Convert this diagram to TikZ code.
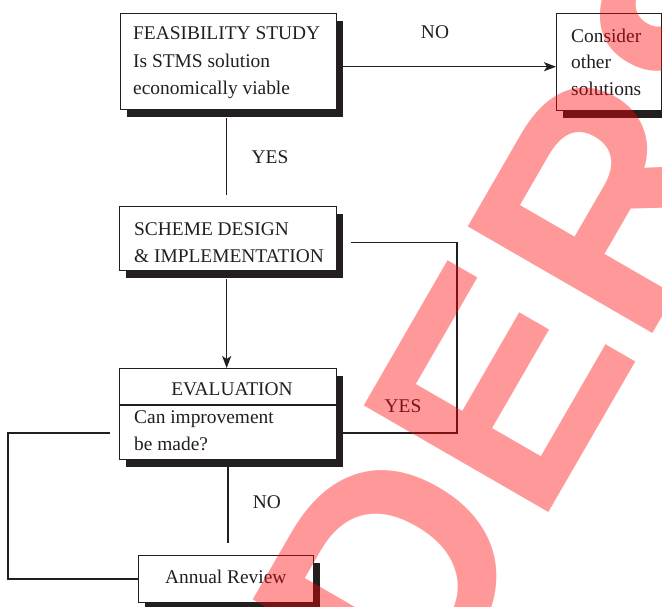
\documentclass[tikz,border=0pt]{standalone}
\usepackage{fontspec}
\setmainfont{Liberation Serif}
\newfontfamily\wmfont{Liberation Sans}
\usetikzlibrary{arrows.meta,shadows}
\definecolor{ink}{HTML}{231F20}
\begin{document}
\begin{tikzpicture}[x=1pt,y=-1pt,
  box/.style={draw=ink, line width=1.4pt, fill=white, inner sep=0pt, anchor=north west},
  shadowed/.style={drop shadow={shadow xshift=6pt, shadow yshift=-7pt, fill=ink, opacity=1}},
  txt/.style={font=\fontsize{19.4}{23}\selectfont, text=ink, inner sep=0pt, anchor=base west},
  lbl/.style={font=\fontsize{19.4}{23}\selectfont, text=ink, inner sep=0pt, anchor=center},
  conn/.style={draw=ink, line width=1.5pt},
  arr/.style={conn, -{Stealth[length=12pt,width=9pt,inset=3pt]}},
  watermark/.style={rotate=60, anchor=base west, inner sep=0pt, outer sep=0pt, text=red,
    text opacity=0.4, font=\wmfont\bfseries\fontsize{310}{310}\selectfont}]
\useasboundingbox (0,0) rectangle (662,606);
\fill[white] (0,0) rectangle (662,606);
% boxes
\node[box, shadowed, minimum width=216pt, minimum height=96pt] (F) at (120,13) {};
\node[box, shadowed, minimum width=105pt, minimum height=97pt] (C) at (556,13) {};
\node[box, shadowed, minimum width=217pt, minimum height=64pt] (S) at (119,206) {};
\node[box, shadowed, minimum width=217pt, minimum height=91pt] (E) at (119,368) {};
\node[box, shadowed, minimum width=175pt, minimum height=47pt] (A) at (138,555) {};
\coordinate (dv) at (0,405);
\draw[ink, line width=1.4pt] (E.west |- dv) -- (E.east |- dv);
% texts
\node[txt] (f1) at (133,39) {FEASIBILITY STUDY};
\node[txt] (f2) at (133,67) {Is STMS solution};
\node[txt] (f3) at (133,94) {economically viable};
\node[txt] (c1) at (571,42) {Consider};
\node[txt] (c2) at (571,68) {other};
\node[txt] (c3) at (571,95) {solutions};
\node[txt] (s1) at (134,235) {SCHEME DESIGN};
\node[txt] (s2) at (134,262) {\&\ IMPLEMENTATION};
\node[txt, anchor=base] (e1) at (232,395) {EVALUATION};
\node[txt] (e2) at (134,423) {Can improvement};
\node[txt] (e3) at (134,450) {be made?};
\node[txt] (a1) at (165,583) {Annual Review};
% labels
\node[lbl] (no1) at (435,32) {NO};
\node[lbl] (yes1) at (270,157) {YES};
\node[lbl] (yes2) at (403,406) {YES};
\node[lbl] (no2) at (267,502) {NO};
% connectors
\draw[arr] ([xshift=6pt,yshift=-5pt]F.east) coordinate (fa) -- (fa -| C.west);
\draw[conn] ([xshift=-2pt,yshift=-8pt]F.south) coordinate (fb) -- ([yshift=11pt]fb |- S.north);
\draw[arr] ([xshift=-1.5pt,yshift=-8pt]S.south) coordinate (sb) -- (sb |- E.north);
\coordinate (rc) at (457,433);
\draw[conn] ([xshift=14pt,yshift=-4pt]S.east) -| (rc) -- (rc -| E.east);
\draw[conn] ([yshift=-7pt]E.south) coordinate (eb) -- ([yshift=12pt]eb |- A.north);
\coordinate (lc) at (8,433);
\draw[conn] ([xshift=-9pt]E.west |- lc) -- (lc) |- (A.west);
% watermark
\node[watermark] (wm) at (427,724) {DERS};
\end{tikzpicture}
\end{document}
